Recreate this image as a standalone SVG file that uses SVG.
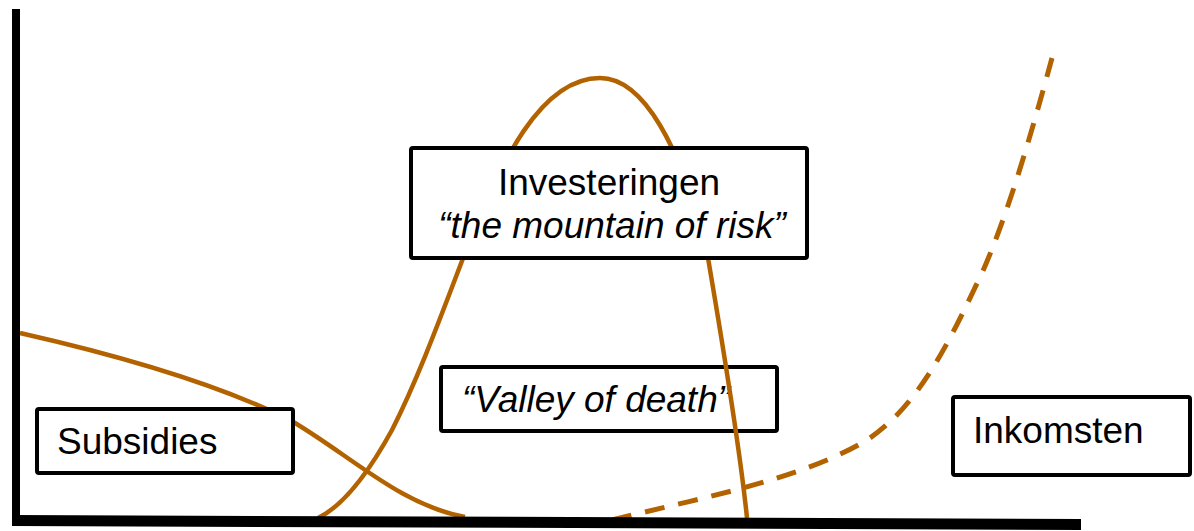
<svg xmlns="http://www.w3.org/2000/svg" width="1194" height="531" viewBox="0 0 1194 531">
  <style>
    .box { fill: #ffffff; stroke: #000000; stroke-width: 4; }
    .curve { fill: none; stroke: #B36200; stroke-width: 4.5; stroke-linecap: butt; }
    .dashed { stroke-dasharray: 20 14; stroke-width: 5; }
    .lbl { font-family: "Liberation Sans", Arial, sans-serif; font-size: 37px; fill: #000000; }
    .it { font-style: italic; }
    .axis { stroke: #000000; fill: none; }
  </style>
  <rect width="1194" height="531" fill="#ffffff"/>

  <g id="valley">
    <rect class="box" x="441" y="367" width="336" height="64" rx="2"/>
    <text class="lbl it" x="462" y="412">“Valley of death”</text>
  </g>

  <g id="curves">
    <path id="subsidies-curve" class="curve" d="M20,333 C130,358 220,385 290,420 C350,455 400,505 465,517"/>
    <path id="mountain-curve" class="curve" d="M318,518 C345,505 370,470 392,430 C420,375 445,305 470,240 C500,165 540,78 600,78 C645,78 680,150 705,240 C715,300 738,430 747,518"/>
    <path id="income-curve" class="curve dashed" d="M612,520 C700,498 800,480 867,440 C920,405 950,340 982,273 C1010,210 1035,120 1052,58"/>
  </g>

  <g id="subsidies">
    <rect class="box" x="37" y="409" width="256" height="64" rx="2"/>
    <text class="lbl" x="57" y="454">Subsidies</text>
  </g>

  <g id="investeringen">
    <rect class="box" x="411" y="148" width="396" height="110" rx="2"/>
    <text class="lbl" x="609" y="195" text-anchor="middle">Investeringen</text>
    <text class="lbl it" x="612" y="238" text-anchor="middle">“the mountain of risk”</text>
  </g>

  <g id="inkomsten">
    <rect class="box" x="953" y="397" width="237" height="78" rx="2"/>
    <text class="lbl" x="973" y="443">Inkomsten</text>
  </g>

  <g id="axes">
    <line class="axis" x1="16" y1="9" x2="16" y2="524" stroke-width="8"/>
    <line class="axis" x1="12" y1="520.5" x2="1081" y2="524.5" stroke-width="11"/>
  </g>
</svg>
